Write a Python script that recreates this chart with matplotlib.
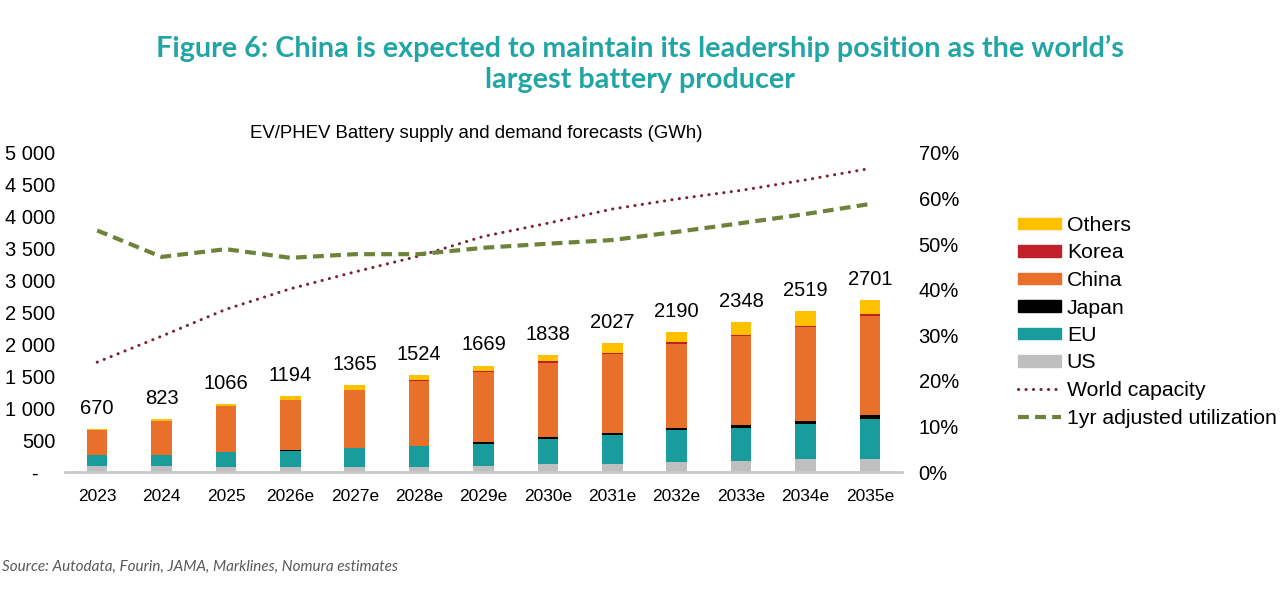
import matplotlib
matplotlib.use("Agg")
import matplotlib.pyplot as plt
import numpy as np
from matplotlib.patches import Patch
from matplotlib.lines import Line2D
from matplotlib.ticker import FuncFormatter

years = ["2023", "2024", "2025", "2026e", "2027e", "2028e", "2029e",
         "2030e", "2031e", "2032e", "2033e", "2034e", "2035e"]
us = [87, 87, 86, 85, 85, 85, 101, 121, 132, 159, 174, 200, 211]
eu = [172, 182, 224, 248, 290, 318, 345, 401, 449, 492, 512, 553, 613]
japan = [3, 2, 11, 6, 5, 11, 21, 21, 32, 32, 53, 47, 74]
china = [396, 534, 716, 784, 901, 1005, 1106, 1163, 1230, 1316, 1388, 1465, 1544]
korea = [2, 2, 3, 4, 5, 26, 16, 26, 26, 32, 21, 26, 32]
others = [10, 16, 26, 67, 79, 79, 80, 106, 158, 159, 200, 228, 227]
totals = [670, 823, 1066, 1194, 1365, 1524, 1669, 1838, 2027, 2190, 2348, 2519, 2701]
world_capacity = [24.1, 29.8, 35.7, 40.2, 43.9, 47.4, 51.7, 54.6, 57.7, 59.9, 61.8, 64.1, 66.6]
utilization = [53.0, 47.2, 48.9, 47.0, 47.8, 47.8, 49.2, 50.1, 50.9, 52.7, 54.6, 56.6, 58.8]

plt.rcParams['font.family'] = ['Liberation Sans', 'DejaVu Sans']

C_US = "#BFBFBF"
C_EU = "#189C9C"
C_JP = "#000000"
C_CN = "#E8702A"
C_KR = "#C0202A"
C_OT = "#FFC000"
C_CAP = "#7A2432"
C_UTIL = "#6E823A"
TEAL = "#22A5A5"

CAP_LS = (0, (0.05, 2.4))
UTIL_LS = (0, (2.6, 1.5))

fig = plt.figure(figsize=(12.8, 6.0), dpi=100)
ax = fig.add_axes([65/1280, 1-472/600, (902-65)/1280, (472-153)/600])

x = np.arange(len(years))
w = 0.32
series = [(us, C_US, "US"), (eu, C_EU, "EU"), (japan, C_JP, "Japan"),
          (china, C_CN, "China"), (korea, C_KR, "Korea"), (others, C_OT, "Others")]
bottom = np.zeros(len(years))
for vals, col, lab in series:
    ax.bar(x, vals, w, bottom=bottom, color=col, edgecolor='none', zorder=2)
    bottom += np.array(vals)

for xi, t in zip(x, totals):
    ax.annotate(f"{t}", (xi, t), xytext=(0, 8), textcoords="offset points",
                ha="center", va="bottom", fontsize=14.5, color="black")

ax.set_xlim(-0.5, len(years) - 0.5)
ax.set_ylim(0, 5000)
ax.set_yticks(np.arange(0, 5001, 500))
def lfmt(v, p):
    if v == 0:
        return "-   "
    return f"{int(v):,}".replace(",", " ")
ax.yaxis.set_major_formatter(FuncFormatter(lfmt))
ax.set_xticks(x)
ax.set_xticklabels(years)
ax.tick_params(axis='y', length=0, labelsize=14.5, pad=7)
ax.tick_params(axis='x', length=0, labelsize=12.5, pad=12)
for s in ["top", "right", "left"]:
    ax.spines[s].set_visible(False)
ax.spines["bottom"].set_color("#C8C8C8")
ax.spines["bottom"].set_linewidth(2)

ax2 = ax.twinx()
ax2.plot(x, world_capacity, color=C_CAP, lw=2.2, linestyle=CAP_LS,
         dash_capstyle='round', zorder=3)
ax2.plot(x, utilization, color=C_UTIL, lw=3.0, linestyle=UTIL_LS, zorder=3)
ax2.set_ylim(0, 70)
ax2.set_yticks(np.arange(0, 71, 10))
ax2.yaxis.set_major_formatter(FuncFormatter(lambda v, p: f"{int(v)}%"))
ax2.tick_params(axis='y', length=0, labelsize=14.5, pad=12)
for s in ["top", "right", "left", "bottom"]:
    ax2.spines[s].set_visible(False)

handles = [Patch(color=C_OT, label="Others"), Patch(color=C_KR, label="Korea"),
           Patch(color=C_CN, label="China"), Patch(color=C_JP, label="Japan"),
           Patch(color=C_EU, label="EU"), Patch(color=C_US, label="US"),
           Line2D([], [], color=C_CAP, lw=2.2, linestyle=CAP_LS,
                  dash_capstyle='round', label="World capacity"),
           Line2D([], [], color=C_UTIL, lw=3.0, linestyle=UTIL_LS,
                  label="1yr adjusted utilization")]
fig.legend(handles=handles, loc="upper left", bbox_to_anchor=(1018/1280, 1-216/600),
           frameon=False, fontsize=15.3, handlelength=2.0, handleheight=0.45,
           handletextpad=0.3, labelspacing=0.4, borderpad=0, borderaxespad=0)

fig.text(640/1280, 1-64/600,
         "Figure 6: China is expected to maintain its leadership position as the world\u2019s\nlargest battery producer",
         ha="center", va="center", fontsize=20.7, fontweight="bold", color=TEAL,
         family=['Lato', 'Liberation Sans'], linespacing=1.27)
fig.text(476/1280, 1-133/600, "EV/PHEV Battery supply and demand forecasts (GWh)",
         ha="center", va="center", fontsize=13.4, color="black")
fig.text(2/1280, 1-567/600, "Source: Autodata, Fourin, JAMA, Marklines, Nomura estimates",
         ha="left", va="center", fontsize=11, style="italic", color="#595959",
         family=['Lato', 'Liberation Sans'])

fig.savefig("out.png", dpi=100, facecolor="white")
